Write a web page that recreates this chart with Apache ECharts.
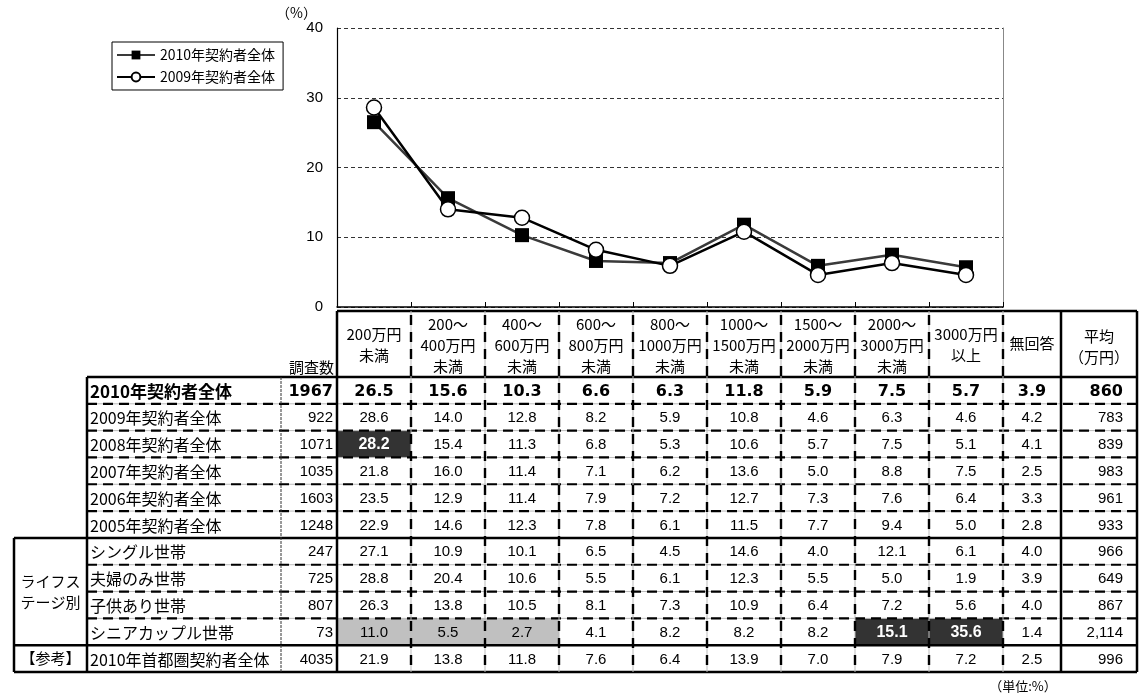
<!DOCTYPE html>
<html><head><meta charset="utf-8">
<script src="https://cdn.jsdelivr.net/npm/echarts@6/dist/echarts.min.js"></script>
<style>html,body{margin:0;padding:0;background:#fff}#c{width:1139px;height:698px}</style>
</head><body><div id="c"></div>
<script>
// ---- data ----
const categories = ['200万円\n未満','200～\n400万円\n未満','400～\n600万円\n未満','600～\n800万円\n未満','800～\n1000万円\n未満','1000～\n1500万円\n未満','1500～\n2000万円\n未満','2000～\n3000万円\n未満','3000万円\n以上'];
const yTicks = [0, 10, 20, 30, 40];
const seriesNames = ['2010年契約者全体', '2009年契約者全体'];
const series2010 = [26.5, 15.6, 10.3, 6.6, 6.3, 11.8, 5.9, 7.5, 5.7];
const series2009 = [28.6, 14.0, 12.8, 8.2, 5.9, 10.8, 4.6, 6.3, 4.6];
const row2008 = [28.2, 15.4, 11.3, 6.8, 5.3, 10.6, 5.7, 7.5, 5.1];
const row2007 = [21.8, 16.0, 11.4, 7.1, 6.2, 13.6, 5.0, 8.8, 7.5];
const row2006 = [23.5, 12.9, 11.4, 7.9, 7.2, 12.7, 7.3, 7.6, 6.4];
const row2005 = [22.9, 14.6, 12.3, 7.8, 6.1, 11.5, 7.7, 9.4, 5.0];
const rowSingle = [27.1, 10.9, 10.1, 6.5, 4.5, 14.6, 4.0, 12.1, 6.1];
const rowCouple = [28.8, 20.4, 10.6, 5.5, 6.1, 12.3, 5.5, 5.0, 1.9];
const rowChild = [26.3, 13.8, 10.5, 8.1, 7.3, 10.9, 6.4, 7.2, 5.6];
const rowSenior = [11.0, 5.5, 2.7, 4.1, 8.2, 8.2, 8.2, 15.1, 35.6];
const rowCapital = [21.9, 13.8, 11.8, 7.6, 6.4, 13.9, 7.0, 7.9, 7.2];
const rowLabels = ['2010年契約者全体','2009年契約者全体','2008年契約者全体','2007年契約者全体','2006年契約者全体','2005年契約者全体','シングル世帯','夫婦のみ世帯','子供あり世帯','シニアカップル世帯','2010年首都圏契約者全体'];
const sampleCounts = [1967, 922, 1071, 1035, 1603, 1248, 247, 725, 807, 73, 4035];
const noAnswer = [3.9, 4.2, 4.1, 2.5, 3.3, 2.8, 4.0, 3.9, 4.0, 1.4, 2.5];
const averages = ['860', '783', '839', '983', '961', '933', '966', '649', '867', '2,114', '996'];
const groupLabels = ['ライフス\nテージ別', '【参考】'];
const extraHeaders = ['無回答', '平均\n（万円）'];
const countHeader = '調査数';
const darkCells = [[2, 0], [9, 7], [9, 8]];
const grayCells = [[9, 0], [9, 1], [9, 2]];

const tableRows = [series2010, series2009, row2008, row2007, row2006, row2005, rowSingle, rowCouple, rowChild, rowSenior, rowCapital];

const JP = "'Noto Sans CJK JP', sans-serif";
const NUM = "'Liberation Sans Narrow', 'Liberation Sans', Arial, sans-serif";

const chart = echarts.init(document.getElementById('c'), null, {renderer: 'canvas'});
const option = {
  animation: false,
  backgroundColor: '#fff',
  textStyle: {fontFamily: JP},
  grid: {left: 337, right: 136, top: 28, bottom: 391},
  legend: {
    orient: 'vertical', left: 112, top: 42,
    data: seriesNames,
    borderColor: '#000', borderWidth: 1, backgroundColor: '#fff',
    padding: [6, 8, 6, 4], itemGap: 8, itemWidth: 38, itemHeight: 11,
    textStyle: {fontSize: 14, color: '#000', fontFamily: JP}
  },
  xAxis: {
    type: 'category', data: categories, boundaryGap: true,
    axisLine: {lineStyle: {color: '#000', width: 1.5}},
    axisTick: {show: true, inside: true, length: 5, lineStyle: {color: '#000'}},
    axisLabel: {interval: 0, margin: 38, verticalAlign: 'middle', fontSize: 15, lineHeight: 21, color: '#000', fontFamily: JP}
  },
  yAxis: [{
    type: 'value', min: yTicks[0], max: yTicks[yTicks.length - 1], interval: 10,
    axisLine: {show: true, lineStyle: {color: '#000', width: 1.2}},
    axisTick: {show: false},
    axisLabel: {fontSize: 15, color: '#000', margin: 14, fontFamily: 'Arial, sans-serif'},
    splitLine: {show: true, lineStyle: {color: '#333', type: [4, 3], width: 1}}
  }, {
    type: 'value', min: yTicks[0], max: yTicks[yTicks.length - 1], interval: 10, position: 'right',
    axisLine: {show: true, lineStyle: {color: '#888', width: 1}},
    axisTick: {show: false}, axisLabel: {show: false}, splitLine: {show: false}
  }],
  series: [{
    name: seriesNames[0], type: 'line', data: series2010,
    symbol: 'rect', symbolSize: 14,
    itemStyle: {color: '#000'},
    lineStyle: {color: '#3a3a3a', width: 2.5}, z: 2
  }, {
    name: seriesNames[1], type: 'line', data: series2009,
    symbol: 'circle', symbolSize: 15, showAllSymbol: true,
    itemStyle: {color: '#fff', borderColor: '#000', borderWidth: 1.5},
    lineStyle: {color: '#000', width: 2.5}, z: 3
  }]
};
chart.setOption(option);

// ---- table built from axis positions ----
const cx = categories.map((c, i) => chart.convertToPixel({xAxisIndex: 0}, i));
const bw = cx[1] - cx[0];
const bounds = cx.map(x => x - bw / 2);
const xPlotR = cx[cx.length - 1] + bw / 2;
bounds.push(xPlotR);
const xNA = xPlotR + 58, xR = xNA + 76;
const xGroupL = 14, xLabelL = 87, xCountL = 281, xCountR = bounds[0];
const yHeadT = 311, yHeadB = 377, yBottom = 672;
const nRows = rowLabels.length;
const rowH = (yBottom - yHeadB) / nRows;
const rowY = i => yHeadB + i * rowH;

const g = [];
function line(x1, y1, x2, y2, w, color, dash) {
  g.push({type: 'line', silent: true, z: 10, shape: {x1, y1, x2, y2},
    style: {stroke: color, lineWidth: w, lineDash: dash || null}});
}
function text(x, y, s, font, align, color, z) {
  g.push({type: 'text', silent: true, z: z || 20, x, y,
    style: {text: s, font, align: align || 'center', verticalAlign: 'middle', fill: color || '#000', lineHeight: 21}});
}
// cell fills
grayCells.forEach(([r, c]) => g.push({type: 'rect', z: 5, shape: {x: bounds[c], y: rowY(r), width: bounds[c + 1] - bounds[c], height: rowH}, style: {fill: '#c0c0c0'}}));
darkCells.forEach(([r, c]) => g.push({type: 'rect', z: 5, shape: {x: bounds[c], y: rowY(r), width: bounds[c + 1] - bounds[c], height: rowH}, style: {fill: '#333'}}));

// horizontal lines
line(xCountR, yHeadT, xR, yHeadT, 2.5, '#000');
line(xLabelL, yHeadB, xR, yHeadB, 2.5, '#000');
for (let i = 1; i < nRows; i++) {
  const y = rowY(i);
  if (i === 6 || i === 10) { line(xGroupL, y, xR, y, 2.5, '#000'); }
  else {
    line(xLabelL, y, xR, y, 1, '#bbb');
    line(xLabelL, y, xR, y, 2.2, '#000', [10, 6]);
  }
}
line(xGroupL, yBottom, xR, yBottom, 2.5, '#000');
// vertical lines
line(xGroupL, rowY(6), xGroupL, yBottom, 2.5, '#000');
line(xLabelL, yHeadB, xLabelL, yBottom, 2.5, '#000');
line(xCountL, yHeadB, xCountL, yBottom, 1, '#333', [3, 1]);
line(xCountR, yHeadT, xCountR, yBottom, 2.5, '#000');
for (let c = 1; c < bounds.length; c++) {
  line(bounds[c], yHeadT, bounds[c], yBottom, 1, '#bbb');
  line(bounds[c], yHeadT + 4, bounds[c], yBottom, 2.4, '#000', [10, 7]);
}
line(xNA, yHeadT, xNA, yBottom, 2.5, '#000');
line(xR, yHeadT, xR, yBottom, 2.5, '#000');

// header texts
text(xCountR - 3, 367, countHeader, '15px ' + JP, 'right');
text((xPlotR + xNA) / 2, 343, extraHeaders[0], '15px ' + JP);
text((xNA + xR) / 2, 347, extraHeaders[1], '15px ' + JP);

// group labels
text((xGroupL + xLabelL) / 2, (rowY(6) + rowY(10)) / 2, groupLabels[0], '15px ' + JP);
text((xGroupL + xLabelL) / 2, (rowY(10) + yBottom) / 2, groupLabels[1], '15px ' + JP);

// rows
const dark = {};
darkCells.forEach(([r, c]) => dark[r + '_' + c] = true);
for (let r = 0; r < nRows; r++) {
  const y = rowY(r) + rowH / 2 + 1;
  const bold = r === 0;
  const lf = bold ? 'bold 17px ' + JP : '16px ' + JP;
  const nf = bold ? 'bold 16px ' + "'DejaVu Sans', sans-serif" : '15px ' + NUM;
  text(xLabelL + 3, y, rowLabels[r], lf, 'left');
  text(xCountR - 4, y, String(sampleCounts[r]), nf, 'right');
  tableRows[r].forEach((v, c) => {
    const isDark = dark[r + '_' + c];
    text(cx[c], y, v.toFixed(1), isDark ? 'bold 16px ' + NUM : nf, 'center', isDark ? '#fff' : '#000', 25);
  });
  text((xPlotR + xNA) / 2, y, noAnswer[r].toFixed(1), nf, 'center');
  text(xR - 14, y, averages[r], nf, 'right');
}

// unit notes
text(xCountR - 20, 13, '（%）', '14px ' + JP, 'right');
text(xPlotR + 20, 686, '（単位:%）', '13px ' + JP, 'center');

chart.setOption({graphic: {elements: g}});
</script>
</body></html>
